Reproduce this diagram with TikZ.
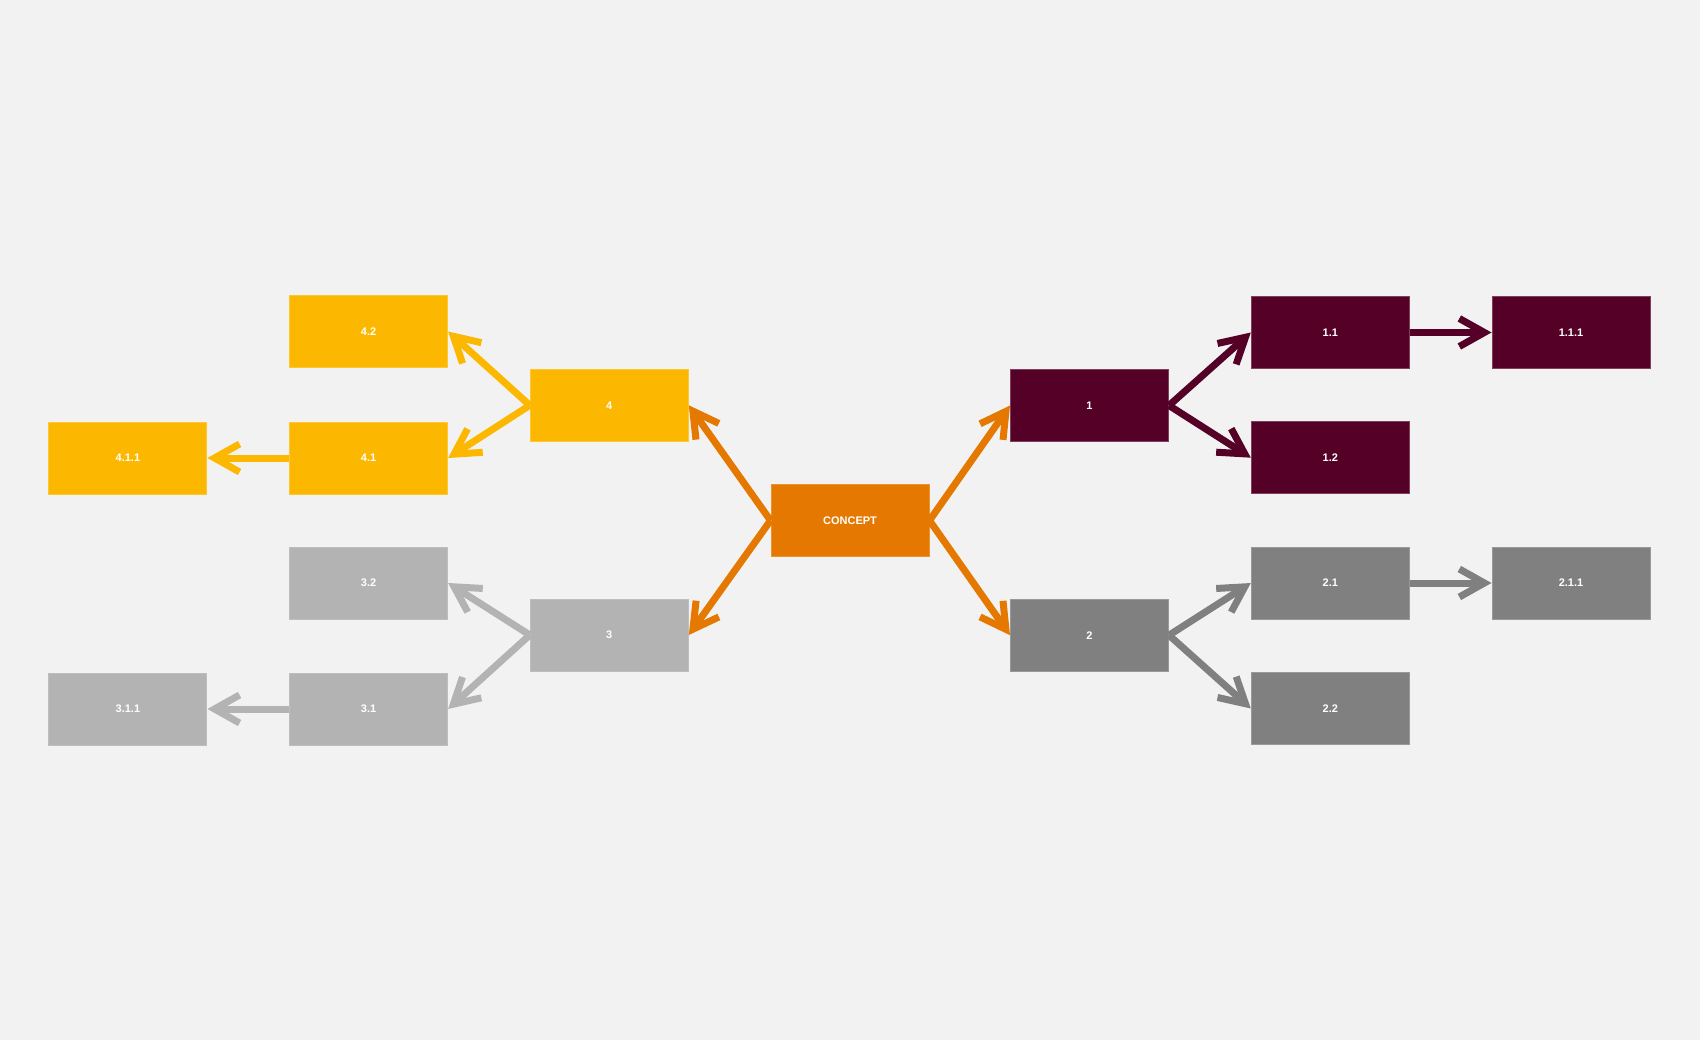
\documentclass[tikz,border=0pt]{standalone}
\usepackage{fontspec}
\setmainfont{Liberation Sans}
\usetikzlibrary{arrows.meta}
\definecolor{bgc}{RGB}{242,242,242}
\definecolor{corange}{RGB}{228,120,0}
\definecolor{cmaroon}{RGB}{85,0,39}
\definecolor{cgray}{RGB}{128,128,128}
\definecolor{cyellow}{RGB}{252,184,0}
\definecolor{clgray}{RGB}{179,179,179}
\tikzset{
  box/.style={rectangle, minimum width=158pt, minimum height=72pt, inner sep=0pt,
    text=white, font=\fontsize{11}{13}\selectfont\bfseries, line width=1pt},
  orangebox/.style={box, fill=corange, draw=corange!80!white},
  maroonbox/.style={box, fill=cmaroon, draw=cmaroon!75!white},
  graybox/.style={box, fill=cgray, draw=cgray!80!white},
  yellowbox/.style={box, fill=cyellow, draw=cyellow!80!white},
  lgraybox/.style={box, fill=clgray, draw=clgray!85!white},
  conn/.style={line width=7pt, -{Straight Barb[length=25pt,width=28pt,sharp]}},
}
\begin{document}
\begin{tikzpicture}[x=1pt,y=-1pt]
\fill[bgc] (0,0) rectangle (1700,1040);
\useasboundingbox (0,0) rectangle (1700,1040);
% nodes
\node[orangebox] (c) at (850,520.5) {CONCEPT};
\node[maroonbox] (n1) at (1089.5,405.5) {1};
\node[maroonbox] (n11) at (1330.3,332.5) {1.1};
\node[maroonbox] (n111) at (1571,332.5) {1.1.1};
\node[maroonbox] (n12) at (1330.3,457.7) {1.2};
\node[graybox] (n2) at (1089.5,635.2) {2};
\node[graybox] (n21) at (1330.3,583) {2.1};
\node[graybox] (n211) at (1571,583) {2.1.1};
\node[graybox] (n22) at (1330.3,708.5) {2.2};
\node[yellowbox] (n4) at (609.3,405.3) {4};
\node[yellowbox] (n42) at (368.6,331.5) {4.2};
\node[yellowbox] (n41) at (368.6,458) {4.1};
\node[yellowbox] (n411) at (127.9,458) {4.1.1};
\node[lgraybox] (n3) at (609.3,635) {3};
\node[lgraybox] (n32) at (368.6,583) {3.2};
\node[lgraybox] (n31) at (368.6,709) {3.1};
\node[lgraybox] (n311) at (127.9,709) {3.1.1};
% connectors
\draw[conn, corange] (c.east) -- (n1.west);
\draw[conn, corange] (c.east) -- (n2.west);
\draw[conn, corange] (c.west) -- (n4.east);
\draw[conn, corange] (c.west) -- (n3.east);
\draw[conn, cmaroon] (n1.east) -- (n11.west);
\draw[conn, cmaroon] (n1.east) -- (n12.west);
\draw[conn, cmaroon] (n11.east) -- (n111.west);
\draw[conn, cgray] (n2.east) -- (n21.west);
\draw[conn, cgray] (n2.east) -- (n22.west);
\draw[conn, cgray] (n21.east) -- (n211.west);
\draw[conn, cyellow] (n4.west) -- (n42.east);
\draw[conn, cyellow] (n4.west) -- (n41.east);
\draw[conn, cyellow] (n41.west) -- (n411.east);
\draw[conn, clgray] (n3.west) -- (n32.east);
\draw[conn, clgray] (n3.west) -- (n31.east);
\draw[conn, clgray] (n31.west) -- (n311.east);
\end{tikzpicture}
\end{document}
